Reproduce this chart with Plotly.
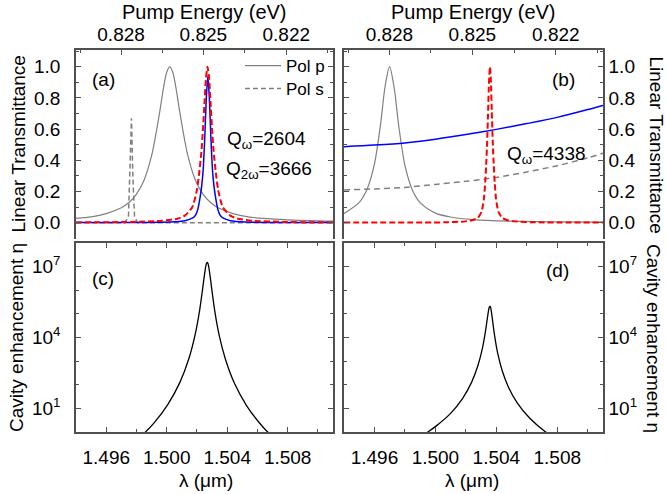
import plotly.graph_objects as go

# ---------------- data ----------------
HC = 1.2395  # eV*um, conversion used for the top "Pump Energy" axis
E_major = [0.828, 0.825, 0.822]
E_minor = [0.8295, 0.8265, 0.8235, 0.8205]

# (a) linear transmittance
lam_a_p = [1.494, 1.495, 1.496, 1.497, 1.4975, 1.498, 1.4985, 1.499, 1.4995, 1.4998, 1.5000, 1.5002,
           1.5004, 1.5006, 1.5009, 1.5014, 1.5019, 1.5024, 1.5029, 1.5034, 1.5044, 1.5054, 1.5064, 1.508, 1.511]
T_a_p = [0.027, 0.037, 0.058, 0.096, 0.129, 0.183, 0.272, 0.429, 0.688, 0.871, 0.964, 1.0,
         0.964, 0.871, 0.688, 0.429, 0.272, 0.183, 0.129, 0.096, 0.058, 0.037, 0.027, 0.018, 0.009]

lam_a_s = [1.494, 1.4970, 1.49725, 1.49747, 1.49756, 1.49767, 1.49776, 1.49787, 1.49807, 1.500, 1.505, 1.511]
T_a_s = [0.0, 0.0, 0.0, 0.04, 0.30, 0.67, 0.30, 0.04, 0.0, 0.0, 0.0, 0.0]

lam_a_b = [1.494, 1.498, 1.5002, 1.5012, 1.50172, 1.50192, 1.50207, 1.50222, 1.50232, 1.50242, 1.50252, 1.50262,
           1.50272, 1.50282, 1.50292, 1.50302, 1.50312, 1.50322, 1.50337, 1.50352, 1.50372, 1.50422, 1.50522,
           1.508, 1.511]
T_a_b = [0.0005, 0.001, 0.004, 0.012, 0.03, 0.05, 0.09, 0.17, 0.24, 0.35, 0.55, 0.80,
         0.94, 0.80, 0.55, 0.35, 0.24, 0.17, 0.09, 0.05, 0.03, 0.012, 0.004,
         0.001, 0.0005]

lam_a_r = [1.494, 1.4977, 1.4997, 1.5007, 1.5012, 1.5017, 1.5020, 1.50215, 1.5023, 1.5024, 1.5025, 1.5026,
           1.5027, 1.5028, 1.5029, 1.5030, 1.5031, 1.50325, 1.5034, 1.5037, 1.5042, 1.5047, 1.5057, 1.5077, 1.511]
T_a_r = [0.0015, 0.0045, 0.012, 0.025, 0.045, 0.10, 0.21, 0.32, 0.46, 0.60, 0.77, 0.93,
         1.0, 0.93, 0.77, 0.60, 0.46, 0.32, 0.21, 0.10, 0.045, 0.025, 0.012, 0.0045, 0.0015]

# (b) linear transmittance
lam_b_p = [1.494, 1.495, 1.4955, 1.496, 1.4964, 1.4967, 1.49699, 1.4973, 1.4976, 1.498, 1.4985, 1.499,
           1.500, 1.501, 1.5025, 1.505, 1.508, 1.511]
T_b_p = [0.058, 0.130, 0.211, 0.377, 0.630, 0.876, 1.0, 0.860, 0.615, 0.367, 0.206, 0.128,
         0.061, 0.036, 0.019, 0.009, 0.005, 0.003]

lam_b_smooth = [1.494, 1.496, 1.498, 1.500, 1.502, 1.504, 1.506, 1.508, 1.510, 1.511]
T_b_b = [0.487, 0.497, 0.511, 0.535, 0.565, 0.598, 0.635, 0.675, 0.725, 0.752]
T_b_s = [0.21, 0.216, 0.226, 0.245, 0.265, 0.29, 0.325, 0.365, 0.415, 0.445]

lam_b_r = [1.494, 1.5006, 1.50198, 1.50248, 1.50278, 1.50303, 1.50318, 1.50327, 1.50333, 1.50339, 1.50346,
           1.50352, 1.50358, 1.50364, 1.50370, 1.50377, 1.50383, 1.50389, 1.50398, 1.50413, 1.50438,
           1.50468, 1.50518, 1.50658, 1.511]
T_b_r = [0.0002, 0.002, 0.008, 0.017, 0.03, 0.07, 0.15, 0.26, 0.366, 0.5, 0.715,
         0.909, 1.0, 0.909, 0.715, 0.5, 0.366, 0.26, 0.15, 0.07, 0.03,
         0.017, 0.008, 0.002, 0.0003]

# (c) cavity enhancement
lam_c = [1.49718, 1.49858, 1.49918, 1.50008, 1.50088, 1.50148, 1.50188, 1.50218, 1.50238, 1.50248,
         1.50258, 1.50263, 1.50268, 1.50273, 1.50278, 1.50288, 1.50298, 1.50318, 1.50348, 1.50388,
         1.50448, 1.50528, 1.50618, 1.50668, 1.50818]
eta_c = [0.17, 0.98, 2.5, 14.8, 129, 1350, 1.32e4, 1.45e5, 1.2e6, 3.7e6,
         1.0e7, 1.35e7, 1.5e7, 1.35e7, 9.8e6, 3.6e6, 1.12e6, 1.32e5, 1.17e4, 1230,
         115, 13.2, 2.24, 1.0, 0.15]

# (d) cavity enhancement
lam_d = [1.49808, 1.49948, 1.50008, 1.50098, 1.50178, 1.50238, 1.50278, 1.50308, 1.50328, 1.50338,
         1.50348, 1.50353, 1.50358, 1.50363, 1.50368, 1.50378, 1.50388, 1.50408, 1.50438, 1.50478,
         1.50538, 1.50618, 1.50728, 1.50858]
eta_d = [0.30, 0.98, 1.86, 6.0, 26, 129, 620, 3400, 1.74e4, 4.8e4,
         1.32e5, 1.86e5, 2.14e5, 1.82e5, 1.17e5, 3.8e4, 1.26e4, 2300, 400, 83,
         16.6, 3.9, 0.95, 0.29]

x_range = [1.494, 1.511]
log_ticks = [10, 1e4, 1e7]
log_ticktext = ["10<sup>1</sup>", "10<sup>4</sup>", "10<sup>7</sup>"]
log_minor = [1, 10, 100, 1e3, 1e4, 1e5, 1e6, 1e7, 1e8]

# ---------------- figure ----------------
W, H = 666, 494
FONT = "Liberation Sans, Arial, sans-serif"
GRAY = "#808080"
AX = "#505050"

def px(x):
    return x / W

def py(y):
    return 1 - y / H

XA = [px(76), px(333)]
XB = [px(344), px(603)]
YA = [py(239), py(50)]
YC = [py(432), py(243)]

fig = go.Figure()

def line(x, y, xa, ya, color, width, dash=None, name=None, legend=None, shape="spline", smoothing=0.8):
    ln = dict(color=color, width=width, shape=shape)
    if shape == "spline":
        ln["smoothing"] = smoothing
    if dash:
        ln["dash"] = dash
    if legend:
        kw = dict(showlegend=True, legend=legend, name=name)
    else:
        kw = dict(showlegend=False)
    fig.add_trace(go.Scatter(x=x, y=y, xaxis=xa, yaxis=ya, mode="lines", line=ln,
                             hoverinfo="skip", **kw))

# (a)
line(lam_a_p, T_a_p, "x", "y", GRAY, 1.2, name="Pol p", legend="legend")
line(lam_a_s, T_a_s, "x", "y", GRAY, 1.5, dash="5px,3px", name="Pol s", legend="legend2", shape="linear")
line(lam_a_b, T_a_b, "x", "y", "#0000ff", 1.5, smoothing=0.5)
line(lam_a_r, T_a_r, "x", "y", "#ff0000", 2.0, dash="6px,3px", smoothing=0.5)
# (b)
line(lam_b_p, T_b_p, "x2", "y2", GRAY, 1.2)
line(lam_b_smooth, T_b_s, "x2", "y2", GRAY, 1.5, dash="6px,4px")
line(lam_b_smooth, T_b_b, "x2", "y2", "#0000ff", 1.5)
line(lam_b_r, T_b_r, "x2", "y2", "#ff0000", 2.0, dash="6px,3px", smoothing=0.5)
# (c), (d)
line(lam_c, eta_c, "x3", "y3", "black", 1.3, smoothing=0.5)
line(lam_d, eta_d, "x4", "y4", "black", 1.3, smoothing=0.5)

base = dict(showline=True, linecolor=AX, linewidth=1.5, ticks="inside", tickcolor=AX, tickwidth=1.2,
            ticklen=5, showgrid=False, zeroline=False,
            tickfont=dict(size=19, color="black", family=FONT))
minor_in = dict(ticks="inside", ticklen=3, tickcolor=AX, tickwidth=1.2, showgrid=False)

top_x = dict(base, side="top", range=x_range, tickmode="array",
             tickvals=[HC / e for e in E_major], ticktext=[f"{e:.3f}" for e in E_major],
             minor=dict(minor_in, tickvals=[HC / e for e in E_minor]), ticklabelstandoff=0)
bot_x = dict(base, side="bottom", range=x_range, tickmode="linear", tick0=1.496, dtick=0.004,
             tickformat=".3f", minor=dict(minor_in, tick0=1.494, dtick=0.002), mirror="ticks",
             ticklabelstandoff=7)
lin_y = dict(base, range=[-0.105, 1.107], tickmode="linear", tick0=0, dtick=0.2, tickformat=".1f",
             minor=dict(minor_in, tick0=0, dtick=0.1), mirror="ticks")
log_y = dict(base, type="log", range=[0, 8], tickmode="array", tickvals=log_ticks, ticktext=log_ticktext,
             minor=dict(minor_in, tickvals=log_minor), mirror="ticks")

leg = dict(xanchor="left", yanchor="middle", bgcolor="rgba(0,0,0,0)",
           font=dict(size=17, family=FONT), itemwidth=36,
           entrywidth=100, entrywidthmode="pixels")

fig.update_layout(
    width=W, height=H, margin=dict(l=0, r=0, t=0, b=0, autoexpand=False),
    paper_bgcolor="white", plot_bgcolor="white",
    font=dict(family=FONT, size=19, color="black"),
    xaxis=dict(top_x, domain=XA, anchor="y"),
    xaxis2=dict(top_x, domain=XB, anchor="y2"),
    xaxis3=dict(bot_x, domain=XA, anchor="y3"),
    xaxis4=dict(bot_x, domain=XB, anchor="y4"),
    yaxis=dict(lin_y, domain=YA, anchor="x", side="left", ticklabelstandoff=10),
    yaxis2=dict(lin_y, domain=YA, anchor="x2", side="right", ticklabelstandoff=0),
    yaxis3=dict(log_y, domain=YC, anchor="x3", side="left", ticklabelstandoff=10),
    yaxis4=dict(log_y, domain=YC, anchor="x4", side="right", ticklabelstandoff=0),
    legend=dict(leg, x=px(240), y=py(66)),
    legend2=dict(leg, x=px(240), y=py(89)),
)

def ann(text, x, y, size=19, angle=0):
    fig.add_annotation(text=text, x=px(x), y=py(y), xref="paper", yref="paper", showarrow=False,
                       xanchor="center", yanchor="middle", textangle=angle,
                       font=dict(size=size, family=FONT, color="black"))

ann("Pump Energy (eV)", 204.5, 12, size=20)
ann("Pump Energy (eV)", 473.5, 12, size=20)
ann("λ (μm)", 206, 480)
ann("λ (μm)", 472, 480)
ann("Linear Transmittance", 18, 144.5, angle=-90)
ann("Cavity enhancement η", 16, 338, angle=-90)
ann("Linear Transmittance", 656, 144.5, angle=90)
ann("Cavity enhancement η", 654, 338, angle=90)
ann("(a)", 103, 79)
ann("(b)", 563, 80)
ann("(c)", 103, 278)
ann("(d)", 557, 270)
ann("Q<sub>ω</sub>=2604", 266, 140)
ann("Q<sub>2ω</sub>=3666", 269, 170)
ann("Q<sub>ω</sub>=4338", 546, 155)

fig.write_html("out.html")
